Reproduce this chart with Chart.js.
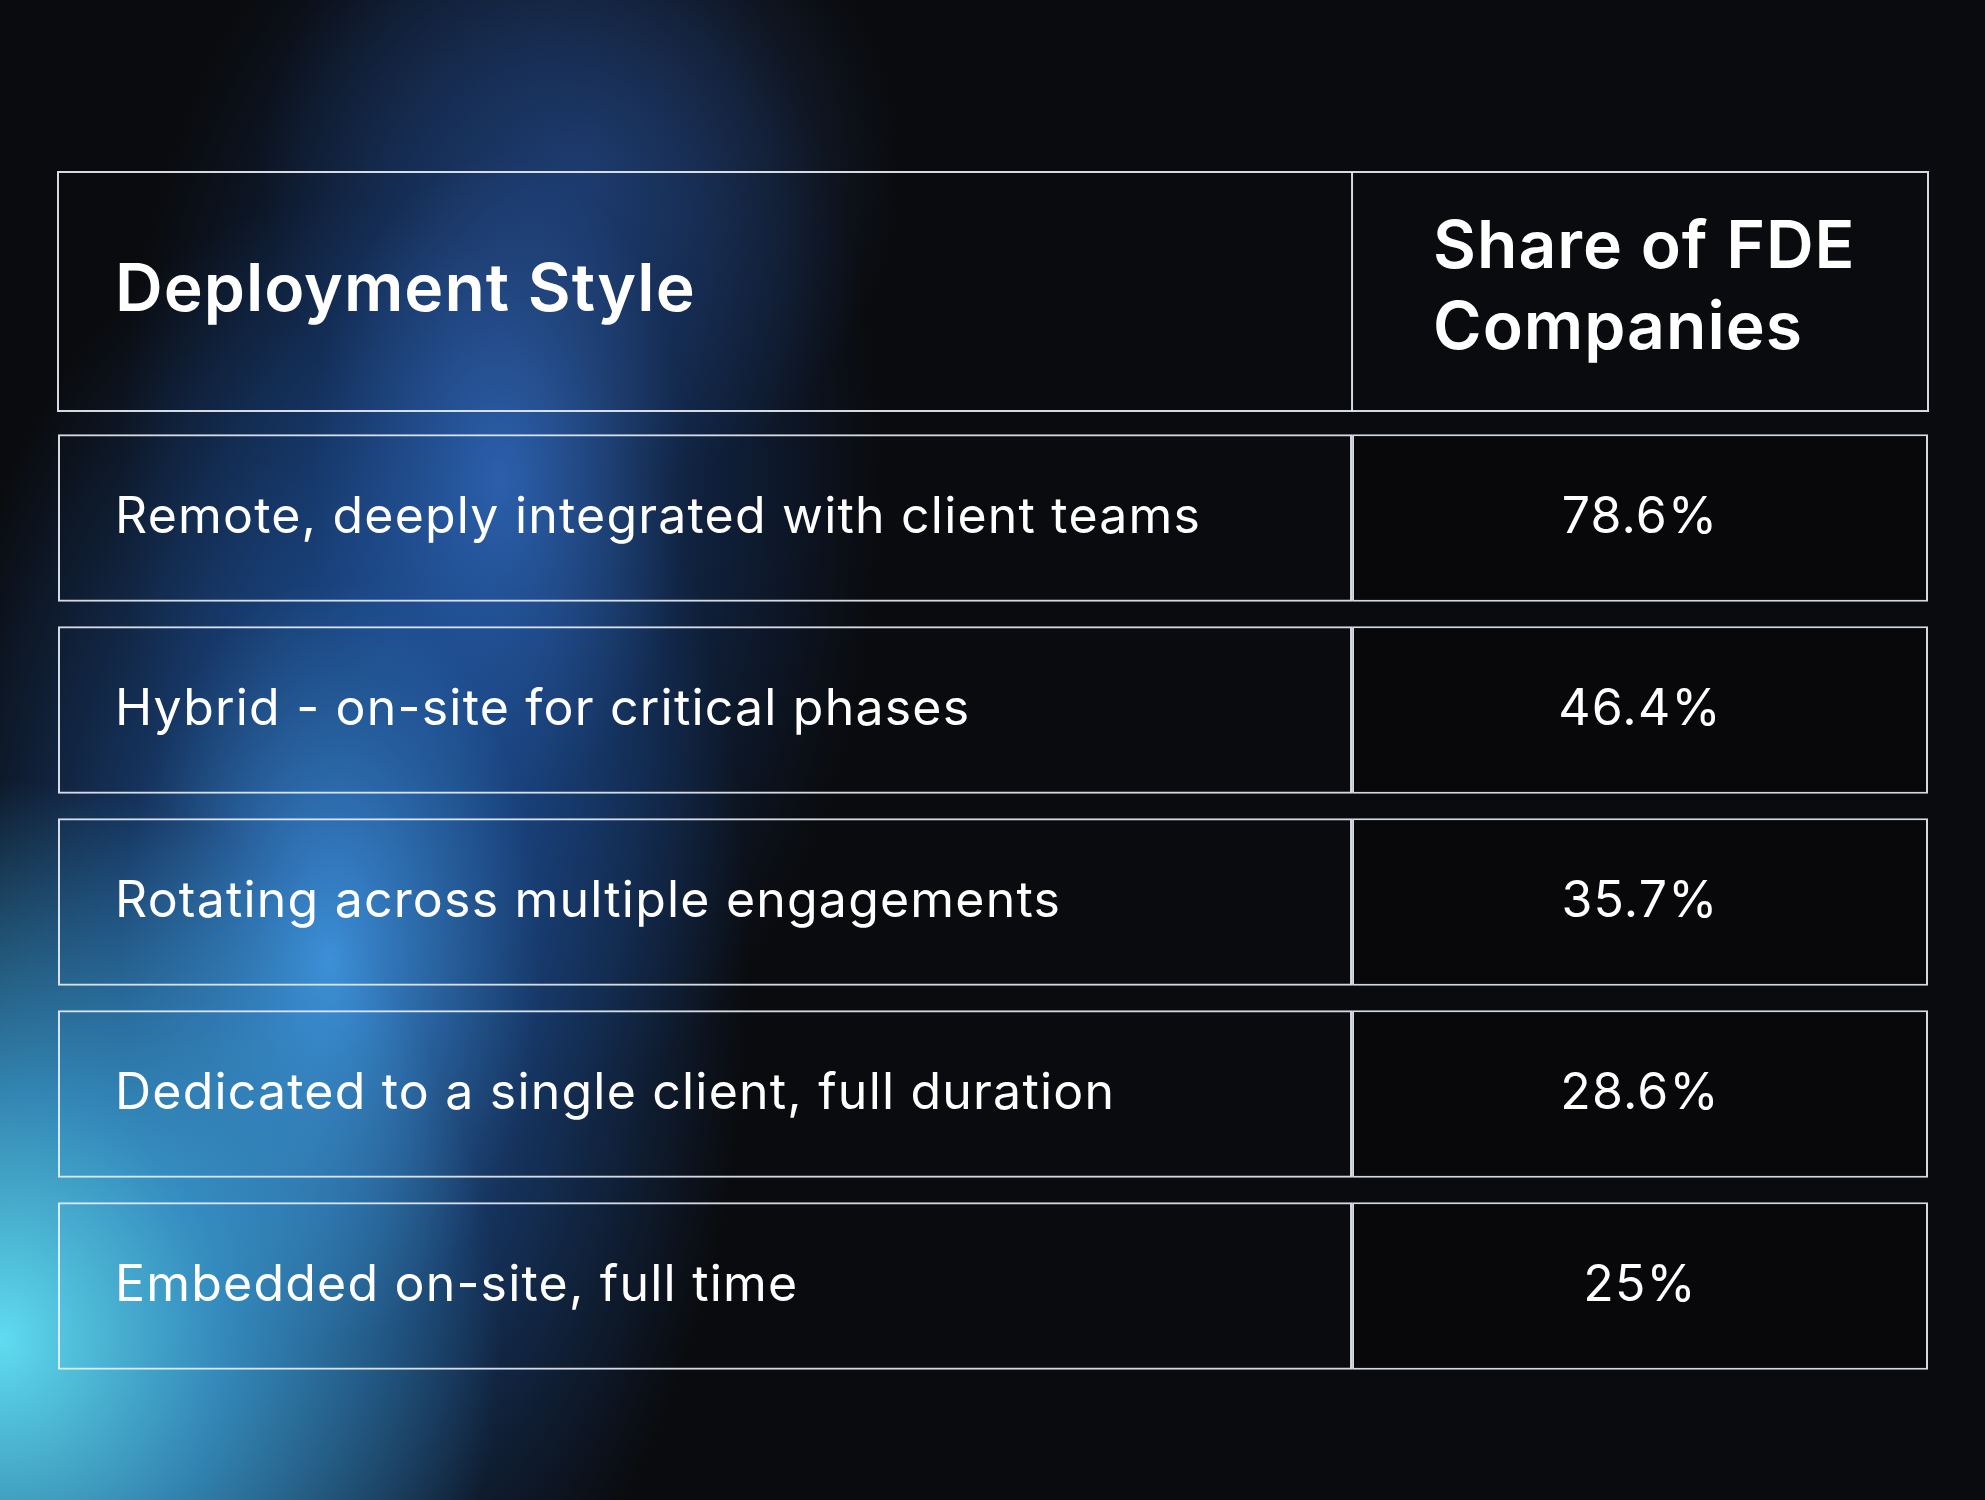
<!DOCTYPE html>
<html>
<head>
<meta charset="utf-8">
<script src="https://cdn.jsdelivr.net/npm/chart.js@4"></script>
<style>
  html, body { margin: 0; padding: 0; }
  body {
    width: 1985px; height: 1500px; overflow: hidden;
    background:
      radial-gradient(ellipse 500px 560px at 0px 1340px, rgba(95,220,240,1), rgba(65,175,230,0.7) 45%, rgba(0,0,0,0) 100%),
      radial-gradient(ellipse 420px 760px at 330px 960px, rgba(65,155,235,0.9), rgba(35,100,190,0.45) 50%, rgba(0,0,0,0) 100%),
      radial-gradient(ellipse 380px 650px at 500px 480px, rgba(55,115,205,0.8), rgba(25,70,140,0.4) 50%, rgba(0,0,0,0) 100%),
      radial-gradient(ellipse 320px 320px at 580px 170px, rgba(45,80,145,0.6), rgba(0,0,0,0) 100%),
      #0a0b0e;
  }
  #wrap { position: absolute; left: 0; top: 0; width: 1985px; height: 1500px; }
</style>
</head>
<body>
<div id="wrap"><canvas id="tableChart"></canvas></div>
<script>
// datos de la tabla
const headerLeft = 'Deployment Style';
const headerRight = ['Share of FDE', 'Companies'];
const styles = [
  'Remote, deeply integrated with client teams',
  'Hybrid - on-site for critical phases',
  'Rotating across multiple engagements',
  'Dedicated to a single client, full duration',
  'Embedded on-site, full time'
];
const shares = [78.6, 46.4, 35.7, 28.6, 25];

const SPLIT = 69.2; // donde se divide la tabla (en % del ancho)

// plugin que escribe los textos y la fila de encabezado
const tableText = {
  id: 'tableText',
  afterDraw(chart) {
    const ctx = chart.ctx;
    const x = chart.scales.x;
    const y = chart.scales.y;
    const left = x.getPixelForValue(0);
    const right = x.getPixelForValue(100);
    const mid = x.getPixelForValue(SPLIT);
    ctx.save();
    ctx.fillStyle = '#ffffff';
    ctx.textBaseline = 'middle';

    // encabezado
    const hTop = 172, hBot = 411;
    ctx.strokeStyle = 'rgba(235,240,250,0.9)';
    ctx.lineWidth = 2;
    ctx.strokeRect(left, hTop, right - left, hBot - hTop);
    ctx.beginPath();
    ctx.moveTo(mid, hTop);
    ctx.lineTo(mid, hBot);
    ctx.stroke();
    ctx.font = '600 66px Inter, "Noto Sans", sans-serif';
    ctx.letterSpacing = '1px';
    ctx.textAlign = 'left';
    ctx.fillText(headerLeft, left + 57, (hTop + hBot) / 2);
    ctx.fillText(headerRight[0], mid + 81, 248);
    ctx.fillText(headerRight[1], mid + 81, 329);

    // filas
    ctx.font = '400 50px Inter, "Noto Sans", sans-serif';
    ctx.letterSpacing = '1.2px';
    styles.forEach((s, i) => {
      const py = y.getPixelForValue(i);
      ctx.textAlign = 'left';
      ctx.fillText(s, left + 57, py);
      ctx.textAlign = 'center';
      ctx.fillText(shares[i] + '%', (mid + right) / 2, py);
    });
    ctx.restore();
  }
};

new Chart(document.getElementById('tableChart'), {
  type: 'bar',
  data: {
    labels: styles,
    datasets: [
      {
        data: styles.map(() => [0, SPLIT]),
        backgroundColor: 'rgba(0,0,0,0)',
        borderColor: 'rgba(235,240,250,0.9)',
        borderWidth: 2,
        borderSkipped: false
      },
      {
        data: styles.map(() => [SPLIT, 100]),
        backgroundColor: 'rgba(8,8,10,0.88)',
        borderColor: 'rgba(235,240,250,0.9)',
        borderWidth: 2,
        borderSkipped: false
      }
    ]
  },
  options: {
    indexAxis: 'y',
    responsive: true,
    maintainAspectRatio: false,
    animation: false,
    events: [],
    grouped: false,
    barPercentage: 0.873,
    categoryPercentage: 1,
    layout: { padding: { left: 58, right: 57, top: 422, bottom: 118 } },
    plugins: { legend: { display: false }, tooltip: { enabled: false } },
    scales: {
      x: { type: 'linear', min: 0, max: 100, display: false },
      y: { display: false }
    }
  },
  plugins: [tableText]
});
</script>
</body>
</html>
